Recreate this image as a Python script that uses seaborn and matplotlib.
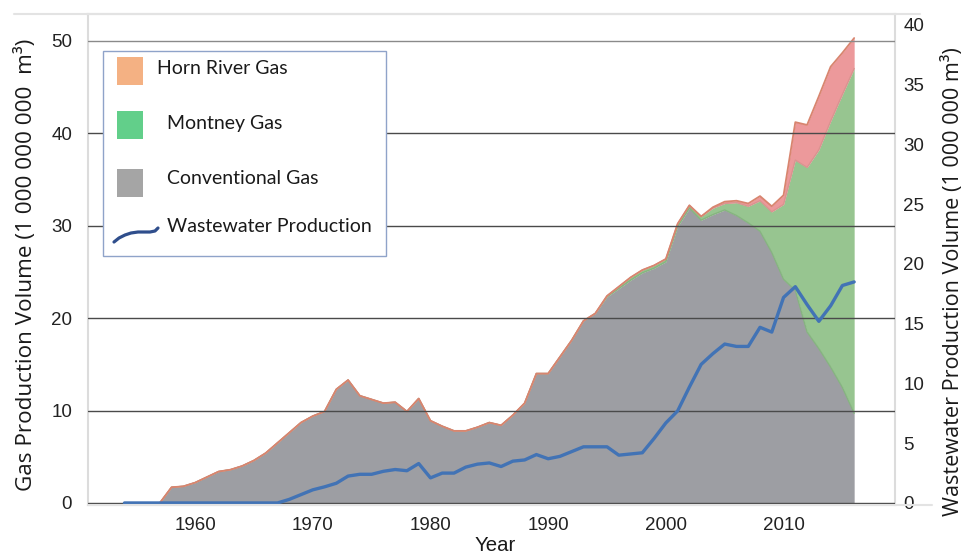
import numpy as np
import matplotlib
matplotlib.use("Agg")
import matplotlib.pyplot as plt
from matplotlib.patches import Rectangle
from matplotlib.lines import Line2D
import seaborn as sns

# yearly values
years = list(range(1954, 2017))

# gas production, 1 000 000 000 m3 (stacked: conventional, montney, horn river)
conventional = [0, 0, 0, 0, 1.7, 1.8, 2.2, 2.8, 3.4, 3.6,
                4.0, 4.6, 5.4, 6.5, 7.6, 8.7, 9.4, 9.9, 12.3, 13.3,
                11.6, 11.2, 10.8, 10.9, 9.9, 11.3, 8.9, 8.3, 7.8, 7.8,
                8.2, 8.7, 8.4, 9.5, 10.8, 14.0, 14.0, 15.8, 17.6, 19.7,
                20.5, 22.3, 23.2, 24.1, 24.9, 25.4, 26.1, 29.9, 31.9, 30.6,
                31.2, 31.7, 31.1, 30.3, 29.4, 27.1, 24.2, 23.0, 18.5, 16.7,
                14.7, 12.5, 9.7]
montney = [0] * 41 + [0.1, 0.2, 0.3, 0.3, 0.3, 0.3, 0.3, 0.3, 0.4,
                      0.7, 0.7, 1.4, 1.8, 3.3, 4.4, 8.1, 14.1, 17.8, 21.5,
                      26.6, 31.7, 37.3]
horn_river = [0] * 50 + [0.1, 0.2, 0.2, 0.3, 0.5, 0.6, 1.0, 4.1, 4.6, 5.8,
                         5.9, 4.5, 3.3]

# wastewater production, 1 000 000 m3
wastewater = [0] * 14 + [0.3, 0.7, 1.1, 1.35, 1.65, 2.25,
                         2.4, 2.4, 2.65, 2.8, 2.7, 3.3, 2.1, 2.5, 2.5, 3.0,
                         3.25, 3.35, 3.05, 3.5, 3.6, 4.05, 3.7, 3.9, 4.3, 4.7,
                         4.7, 4.7, 4.0, 4.1, 4.2, 5.4, 6.7, 7.7, 9.7, 11.6,
                         12.5, 13.3, 13.1, 13.1, 14.7, 14.3, 17.2, 18.1, 16.6, 15.2,
                         16.5, 18.2, 18.5]

sns.set_theme(style="white")
plt.rcParams["font.family"] = ["Liberation Sans", "DejaVu Sans"]

W, H = 975, 554
fig = plt.figure(figsize=(W / 100, H / 100), dpi=100)


def fx(px):
    return px / W


def fy(py):
    return 1 - py / H


def fit_length(text, target_px):
    # scale a text so its long side covers target_px pixels
    r = fig.canvas.get_renderer()
    bb = text.get_window_extent(r)
    text.set_fontsize(text.get_fontsize() * target_px / max(bb.width, bb.height))


ax = fig.add_axes([fx(88), fy(505), fx(895) - fx(88), fy(14) - fy(505)])

conv = np.array(conventional)
mont_top = conv + np.array(montney)
total = mont_top + np.array(horn_river)

ax.fill_between(years, 0, conv, color="#9d9ea3", lw=0)
ax.fill_between(years, conv, mont_top, color="#97c590", lw=0)
ax.fill_between(years, mont_top, total, color="#ec999b", lw=0)
ax.plot(years, conv, color="#86b480", lw=1)
ax.plot(years, mont_top, color="#d99490", lw=1)
ax.plot(years, total, color="#d8856f", lw=1.3)

ax.set_xlim(1950.9, 2019.47)
ax.set_ylim(-0.22, 52.9)
ax.set_xticks([1960, 1970, 1980, 1990, 2000, 2010])
ax.set_yticks([0, 10, 20, 30, 40, 50])
ax.grid(axis="y", color="#4a4a4a", lw=1.0)
ax.set_axisbelow(False)
ax.yaxis.get_gridlines()[-1].set_color("#8a8a8a")
ax.tick_params(axis="both", length=0, labelsize=13.5, labelcolor="#222222")
ax.tick_params(axis="x", pad=9)
ax.tick_params(axis="y", pad=11.5)
for s in ax.spines.values():
    s.set_color("#dcdcdc")
    s.set_linewidth(1.5)

xlab = ax.set_xlabel("Year", fontsize=13.7, color="#1a1a1a")
ax.xaxis.set_label_coords(0.504, -0.063)
ylab = ax.set_ylabel("Gas Production Volume (1 000 000 000  m³)", fontfamily="Open Sans",
                     fontsize=14, color="#1a1a1a")
ax.yaxis.set_label_coords(-0.063, 0.489)

# wastewater on the secondary axis
ax2 = ax.twinx()
sns.lineplot(x=years, y=wastewater, ax=ax2, color="#4273b5", lw=2.4)
ax2.set_ylim(-0.17, 40.92)
ax2.set_yticks(range(0, 41, 5))
ax2.tick_params(axis="y", length=0, labelsize=13.5, labelcolor="#222222", pad=6)
for s in ax2.spines.values():
    s.set_visible(False)
ylab2 = ax2.set_ylabel("Wastewater Production Volume (1 000 000 m³)", fontfamily="Open Sans",
                       fontsize=14, color="#1a1a1a")
ax2.yaxis.set_label_coords(1.058, 0.454)
fit_length(ylab, 456)
fit_length(ylab2, 470)
fit_length(xlab, 41)

# light outer frame lines
fig.add_artist(Line2D([fx(14), fx(920)], [fy(14), fy(14)], color="#e3e3e3", lw=1.5))
fig.add_artist(Line2D([fx(88), fx(932)], [fy(505), fy(505)], color="#e3e3e3", lw=1.5))

# legend box drawn by hand
fig.add_artist(Rectangle((fx(103), fy(256)), fx(386) - fx(103), fy(51) - fy(256),
                         transform=fig.transFigure, facecolor="white",
                         edgecolor="#8fa3c9", lw=1))
legend_font = dict(fontfamily="Lato", fontsize=14, color="#1a1a1a", va="center")
patches = [("#f4b183", 57, "Horn River Gas", 157, 68),
           ("#62cf8a", 111, "Montney Gas", 167, 123),
           ("#a5a5a5", 169, "Conventional Gas", 167, 178)]
for color, top, label, tx, ty in patches:
    fig.add_artist(Rectangle((fx(117), fy(top + 28)), fx(143) - fx(117), fy(top) - fy(top + 28),
                             transform=fig.transFigure, facecolor=color, lw=0))
    fig.text(fx(tx), fy(ty), label, **legend_font)
lx = [114, 119, 125, 131, 138, 150, 155, 158]
ly = [242, 238, 235, 233, 232, 232, 231, 228]
fig.add_artist(Line2D([fx(v) for v in lx], [fy(v) for v in ly], color="#2f4e8c", lw=2.3,
                      solid_capstyle="round"))
fig.text(fx(167), fy(227), "Wastewater Production", **legend_font)

fig.savefig("out.png", dpi=100)
